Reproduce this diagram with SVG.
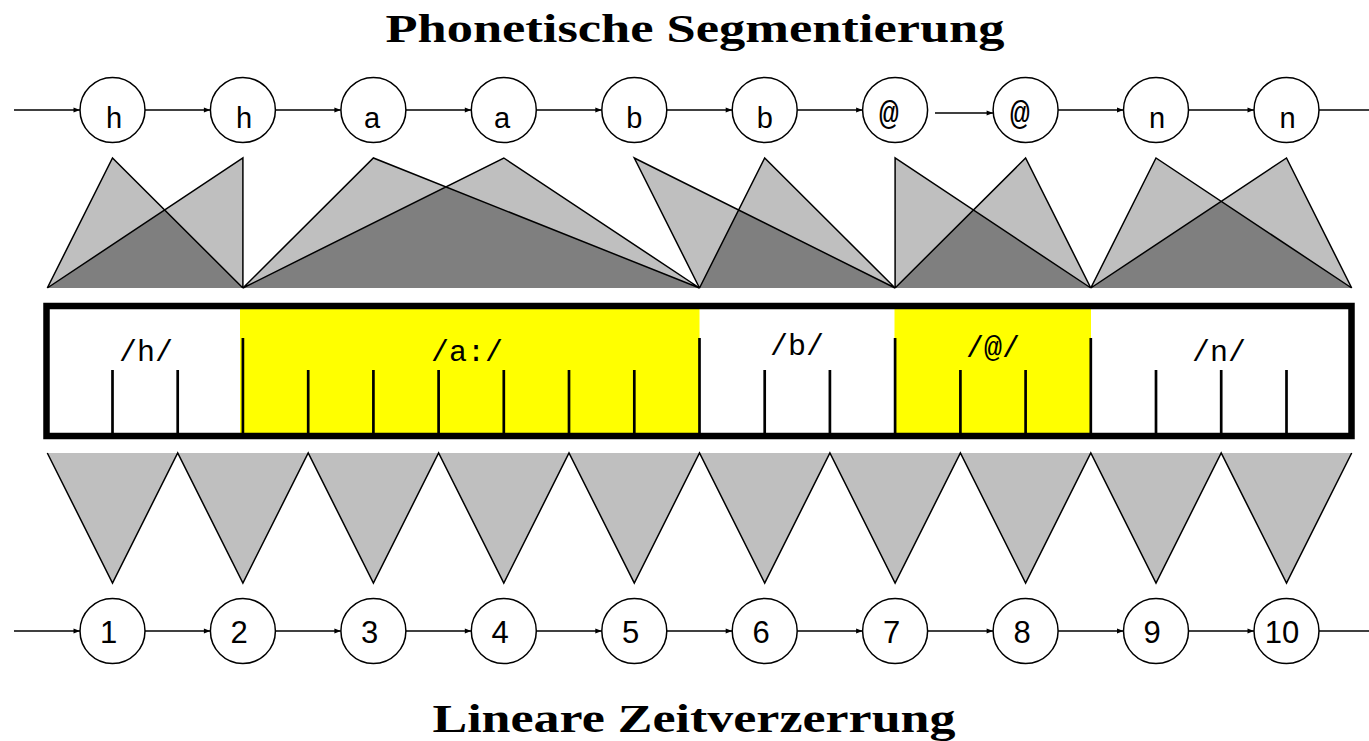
<svg xmlns="http://www.w3.org/2000/svg" width="1369" height="741" viewBox="0 0 1369 741">
<style>
.node{fill:#fff;stroke:#000;stroke-width:1.5}
.lbl{font-family:"Liberation Sans",Arial,sans-serif;font-size:29px;text-anchor:middle;fill:#000}
.num{font-family:"Liberation Sans",Arial,sans-serif;font-size:31px;text-anchor:middle;fill:#000}
.mono{font-family:"Liberation Mono","Courier New",monospace;text-anchor:middle;fill:#000}
.title{font-family:"Liberation Serif","Times New Roman",serif;font-weight:bold;font-size:41px;text-anchor:middle;fill:#000}
.edge{stroke:#000;stroke-width:1.4;fill:none}
.light{fill:#bfbfbf;stroke:none}
.dark{fill:#7f7f7f;stroke:none}
.tline{fill:none;stroke:#000;stroke-width:1.5;stroke-linejoin:miter}
.tick{stroke:#000;stroke-width:2.7}
</style>
<defs>
<marker id="arr" markerUnits="userSpaceOnUse" markerWidth="8" markerHeight="8" refX="7" refY="4" orient="auto">
<path d="M0.5,1.5 L7,4 L0.5,6.5 Z" fill="#000"/>
</marker>
</defs>

<text class="title" x="695" y="42" textLength="619" lengthAdjust="spacingAndGlyphs">Phonetische Segmentierung</text>
<text class="title" x="694" y="732" textLength="523" lengthAdjust="spacingAndGlyphs">Lineare Zeitverzerrung</text>

<g id="connectors">
<g id="top-arrows" class="edge" marker-end="url(#arr)">
<line x1="14" y1="110" x2="80" y2="110"/>
<line x1="145" y1="110" x2="210.4" y2="110"/>
<line x1="275.4" y1="110" x2="340.9" y2="110"/>
<line x1="405.9" y1="110" x2="471.3" y2="110"/>
<line x1="536.3" y1="110" x2="601.8" y2="110"/>
<line x1="666.8" y1="110" x2="732.2" y2="110"/>
<line x1="797.2" y1="110" x2="862.6" y2="110"/>
<line x1="935" y1="113" x2="993.1" y2="113"/>
<line x1="1058.1" y1="110" x2="1123.5" y2="110"/>
<line x1="1188.5" y1="110" x2="1254" y2="110"/>
</g>
<line class="edge" x1="1319" y1="110" x2="1369" y2="110"/>
<g id="bottom-arrows" class="edge" marker-end="url(#arr)">
<line x1="14" y1="631" x2="80" y2="631"/>
<line x1="145" y1="631" x2="210.4" y2="631"/>
<line x1="275.4" y1="631" x2="340.9" y2="631"/>
<line x1="405.9" y1="631" x2="471.3" y2="631"/>
<line x1="536.3" y1="631" x2="601.8" y2="631"/>
<line x1="666.8" y1="631" x2="732.2" y2="631"/>
<line x1="797.2" y1="631" x2="862.6" y2="631"/>
<line x1="927.6" y1="631" x2="993.1" y2="631"/>
<line x1="1058.1" y1="631" x2="1123.5" y2="631"/>
<line x1="1188.5" y1="631" x2="1254" y2="631"/>
</g>
<line class="edge" x1="1319" y1="631" x2="1369" y2="631"/>
</g>

<g id="top-states">
<g id="s1"><circle class="node" cx="112.5" cy="110" r="32.5"/><text class="lbl" x="114" y="128">h</text></g>
<g id="s2"><circle class="node" cx="242.9" cy="110" r="32.5"/><text class="lbl" x="244" y="128">h</text></g>
<g id="s3"><circle class="node" cx="373.4" cy="110" r="32.5"/><text class="lbl" x="372" y="128">a</text></g>
<g id="s4"><circle class="node" cx="503.8" cy="110" r="32.5"/><text class="lbl" x="502" y="128">a</text></g>
<g id="s5"><circle class="node" cx="634.3" cy="110" r="32.5"/><text class="lbl" x="634.3" y="128">b</text></g>
<g id="s6"><circle class="node" cx="764.7" cy="110" r="32.5"/><text class="lbl" x="764.7" y="128">b</text></g>
<g id="s7"><circle class="node" cx="895.1" cy="110" r="32.5"/><text class="mono" style="font-size:33px" x="889" y="124">@</text></g>
<g id="s8"><circle class="node" cx="1025.6" cy="110" r="32.5"/><text class="mono" style="font-size:33px" x="1020" y="124">@</text></g>
<g id="s9"><circle class="node" cx="1156" cy="110" r="32.5"/><text class="lbl" x="1157" y="128">n</text></g>
<g id="s10"><circle class="node" cx="1286.5" cy="110" r="32.5"/><text class="lbl" x="1287.5" y="128">n</text></g>
</g>

<g id="segmentation-triangles">
<polygon class="light" points="47.3,288 112.5,158 242.9,288"/>
<polygon class="light" points="47.3,288 242.9,158 242.9,288"/>
<polygon class="light" points="242.9,288 373.4,158 699.5,288"/>
<polygon class="light" points="242.9,288 503.8,158 699.5,288"/>
<polygon class="light" points="634.3,158 699.5,288 895.1,288"/>
<polygon class="light" points="699.5,288 764.7,158 895.1,288"/>
<polygon class="light" points="895.1,288 895.1,158 1090.8,288"/>
<polygon class="light" points="895.1,288 1025.6,158 1090.8,288"/>
<polygon class="light" points="1090.8,288 1156,158 1351.7,288"/>
<polygon class="light" points="1090.8,288 1286.5,158 1351.7,288"/>
<polygon class="dark" points="47.3,288 164.7,210 242.9,288"/>
<polygon class="dark" points="242.9,288 446,186.9 699.5,288"/>
<polygon class="dark" points="699.5,288 738.7,210.1 895.1,288"/>
<polygon class="dark" points="895.1,288 973.4,210 1090.8,288"/>
<polygon class="dark" points="1090.8,288 1221.2,201.4 1351.7,288"/>
<path class="tline" d="M47.3,288 L112.5,158 L242.9,288 M47.3,288 L242.9,158 L242.9,288"/>
<path class="tline" d="M242.9,288 L373.4,158 L699.5,288 M242.9,288 L503.8,158 L699.5,288"/>
<path class="tline" d="M699.5,288 L634.3,158 L895.1,288 M699.5,288 L764.7,158 L895.1,288"/>
<path class="tline" d="M895.1,288 L895.1,158 L1090.8,288 M895.1,288 L1025.6,158 L1090.8,288"/>
<path class="tline" d="M1090.8,288 L1156,158 L1351.7,288 M1090.8,288 L1286.5,158 L1351.7,288"/>
</g>

<g id="segment-box">
<rect x="240" y="309" width="459.5" height="124" fill="#ffff00"/>
<rect x="894.5" y="309" width="196.5" height="124" fill="#ffff00"/>
<g class="tick">
<line x1="112.5" y1="370" x2="112.5" y2="436"/>
<line x1="177.7" y1="370" x2="177.7" y2="436"/>
<line x1="242.9" y1="338" x2="242.9" y2="436"/>
<line x1="308.2" y1="370" x2="308.2" y2="436"/>
<line x1="373.4" y1="370" x2="373.4" y2="436"/>
<line x1="438.6" y1="370" x2="438.6" y2="436"/>
<line x1="503.8" y1="370" x2="503.8" y2="436"/>
<line x1="569" y1="370" x2="569" y2="436"/>
<line x1="634.3" y1="370" x2="634.3" y2="436"/>
<line x1="699.5" y1="338" x2="699.5" y2="436"/>
<line x1="764.7" y1="370" x2="764.7" y2="436"/>
<line x1="829.9" y1="370" x2="829.9" y2="436"/>
<line x1="895.1" y1="338" x2="895.1" y2="436"/>
<line x1="960.4" y1="370" x2="960.4" y2="436"/>
<line x1="1025.6" y1="370" x2="1025.6" y2="436"/>
<line x1="1090.8" y1="338" x2="1090.8" y2="436"/>
<line x1="1156" y1="370" x2="1156" y2="436"/>
<line x1="1221.2" y1="370" x2="1221.2" y2="436"/>
<line x1="1286.5" y1="370" x2="1286.5" y2="436"/>
</g>
<rect x="46.5" y="306" width="1305" height="130" fill="none" stroke="#000" stroke-width="6.5"/>
<text class="mono" style="font-size:30px" x="146" y="361">/h/</text>
<text class="mono" style="font-size:30px" x="467" y="361">/a:/</text>
<text class="mono" style="font-size:30px" x="797" y="355">/b/</text>
<text class="mono" style="font-size:30px" x="993" y="357">/@/</text>
<text class="mono" style="font-size:30px" x="1219" y="361">/n/</text>
</g>

<g id="frame-triangles">
<polygon class="light" points="47.3,453 112.5,583 177.7,453 242.9,583 308.2,453 373.4,583 438.6,453 503.8,583 569,453 634.3,583 699.5,453 764.7,583 829.9,453 895.1,583 960.4,453 1025.6,583 1090.8,453 1156,583 1221.2,453 1286.5,583 1351.7,453"/>
<polyline class="tline" points="47.3,453 112.5,583 177.7,453 242.9,583 308.2,453 373.4,583 438.6,453 503.8,583 569,453 634.3,583 699.5,453 764.7,583 829.9,453 895.1,583 960.4,453 1025.6,583 1090.8,453 1156,583 1221.2,453 1286.5,583 1351.7,453"/>
</g>

<g id="bottom-states">
<g id="f1"><circle class="node" cx="112.5" cy="631" r="32.5"/><text class="num" x="108.5" y="643">1</text></g>
<g id="f2"><circle class="node" cx="242.9" cy="631" r="32.5"/><text class="num" x="239" y="643">2</text></g>
<g id="f3"><circle class="node" cx="373.4" cy="631" r="32.5"/><text class="num" x="369.5" y="643">3</text></g>
<g id="f4"><circle class="node" cx="503.8" cy="631" r="32.5"/><text class="num" x="500" y="643">4</text></g>
<g id="f5"><circle class="node" cx="634.3" cy="631" r="32.5"/><text class="num" x="630.5" y="643">5</text></g>
<g id="f6"><circle class="node" cx="764.7" cy="631" r="32.5"/><text class="num" x="761" y="643">6</text></g>
<g id="f7"><circle class="node" cx="895.1" cy="631" r="32.5"/><text class="num" x="891.5" y="643">7</text></g>
<g id="f8"><circle class="node" cx="1025.6" cy="631" r="32.5"/><text class="num" x="1022" y="643">8</text></g>
<g id="f9"><circle class="node" cx="1156" cy="631" r="32.5"/><text class="num" x="1152" y="643">9</text></g>
<g id="f10"><circle class="node" cx="1286.5" cy="631" r="32.5"/><text class="num" x="1282" y="643">10</text></g>
</g>
</svg>
